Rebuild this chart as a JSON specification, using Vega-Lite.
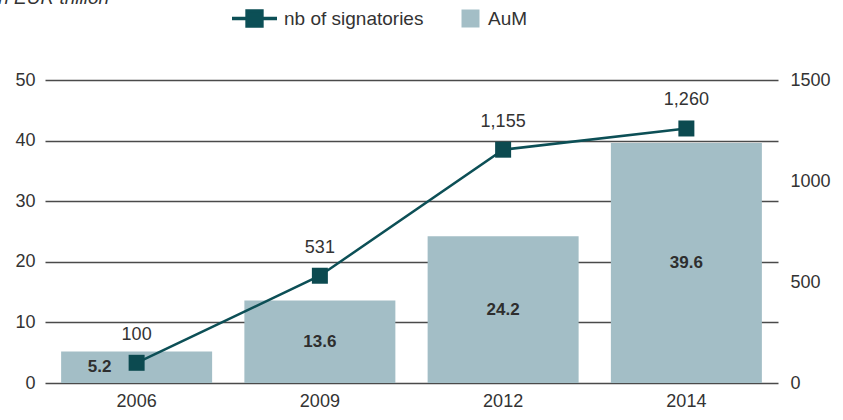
{
  "$schema": "https://vega.github.io/schema/vega-lite/v6.json",
  "width": 733,
  "height": 303,
  "autosize": {"type": "none"},
  "padding": {"left": 45, "top": 80, "right": 65, "bottom": 37},
  "background": "white",
  "title": {
    "text": "in EUR trillion",
    "anchor": "start",
    "frame": "group",
    "fontStyle": "italic",
    "fontWeight": "normal",
    "fontSize": 19,
    "font": "Liberation Sans",
    "color": "#333333",
    "dx": -51,
    "offset": -14
  },
  "config": {
    "view": {"stroke": null},
    "font": "Liberation Sans",
    "axis": {
      "labelFont": "Liberation Sans",
      "labelFontSize": 18,
      "labelColor": "#333333",
      "domain": false,
      "ticks": false,
      "title": null
    },
    "legend": {
      "labelFont": "Liberation Sans",
      "labelFontSize": 19,
      "labelColor": "#333333",
      "padding": 0,
      "title": null
    }
  },
  "data": {
    "values": [
      {"year": "2006", "aum": 5.2, "signatories": 100},
      {"year": "2009", "aum": 13.6, "signatories": 531},
      {"year": "2012", "aum": 24.2, "signatories": 1155},
      {"year": "2014", "aum": 39.6, "signatories": 1260}
    ]
  },
  "encoding": {
    "x": {
      "field": "year",
      "type": "ordinal",
      "scale": {"paddingInner": 0.176, "paddingOuter": 0.088},
      "axis": {"labelAngle": 0, "labelPadding": 9, "grid": false}
    }
  },
  "layer": [
    {
      "mark": {"type": "bar"},
      "encoding": {
        "y": {
          "field": "aum",
          "type": "quantitative",
          "scale": {"domain": [0, 50]},
          "axis": {
            "values": [0, 10, 20, 30, 40, 50],
            "grid": true,
            "gridColor": "#4a4a4a",
            "gridWidth": 1.5,
            "gridOpacity": 1,
            "labelPadding": 10
          }
        },
        "fill": {
          "datum": "AuM",
          "scale": {"range": ["#a3bec6"]},
          "legend": {
            "orient": "none",
            "legendX": 416,
            "legendY": -71,
            "symbolType": "square",
            "symbolSize": 324,
            "symbolStrokeWidth": 0,
            "labelOffset": 8
          }
        }
      }
    },
    {
      "transform": [{"filter": "datum.year != '2006'"}],
      "mark": {"type": "text", "fontSize": 17, "fontWeight": "bold", "color": "#2e2e2e", "baseline": "middle"},
      "encoding": {
        "y": {"field": "aum", "type": "quantitative", "scale": {"domain": [0, 100]}, "axis": null},
        "text": {"field": "aum", "type": "quantitative", "format": ".1f"}
      }
    },
    {
      "transform": [{"filter": "datum.year == '2006'"}],
      "mark": {"type": "text", "fontSize": 17, "fontWeight": "bold", "color": "#2e2e2e", "baseline": "middle", "dx": -37},
      "encoding": {
        "y": {"field": "aum", "type": "quantitative", "scale": {"domain": [0, 100]}, "axis": null},
        "text": {"field": "aum", "type": "quantitative", "format": ".1f"}
      }
    },
    {
      "mark": {"type": "line", "strokeWidth": 2.5},
      "encoding": {
        "y": {
          "field": "signatories",
          "type": "quantitative",
          "scale": {"domain": [0, 1500]},
          "axis": {
            "orient": "right",
            "values": [0, 500, 1000, 1500],
            "grid": false,
            "labelPadding": 12,
            "format": "d"
          }
        },
        "stroke": {
          "datum": "nb of signatories",
          "scale": {"range": ["#0c4f56"]},
          "legend": {
            "orient": "none",
            "legendX": 185,
            "legendY": -86,
            "symbolType": "M-1,0H1M-0.33,-0.33H0.33V0.33H-0.33Z",
            "symbolSize": 2025,
            "labelOffset": 5,
            "symbolStrokeWidth": 3.5,
            "encode": {
              "symbols": {
                "update": {
                  "fill": {"value": "#0c4f56"},
                  "stroke": {"value": "#0c4f56"},
                  "strokeWidth": {"value": 3.5},
                  "opacity": {"value": 1}
                }
              }
            }
          }
        }
      }
    },
    {
      "mark": {"type": "square", "size": 256, "filled": true, "color": "#0c4a50", "opacity": 1},
      "encoding": {
        "y": {"field": "signatories", "type": "quantitative", "scale": {"domain": [0, 1500]}, "axis": null}
      }
    },
    {
      "mark": {"type": "text", "fontSize": 18, "color": "#333333", "baseline": "middle", "dy": -28},
      "encoding": {
        "y": {"field": "signatories", "type": "quantitative", "scale": {"domain": [0, 1500]}, "axis": null},
        "text": {"field": "signatories", "type": "quantitative", "format": ","}
      }
    }
  ],
  "resolve": {"scale": {"y": "independent"}}
}
